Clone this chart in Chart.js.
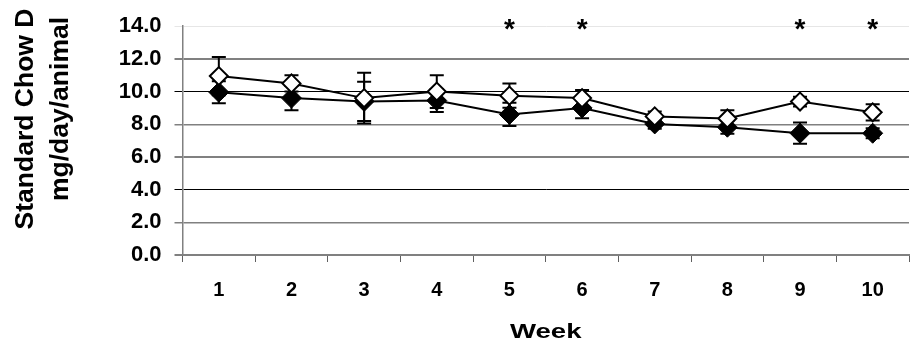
<!DOCTYPE html>
<html>
<head>
<meta charset="utf-8">
<script src="https://cdn.jsdelivr.net/npm/chart.js@4/dist/chart.umd.min.js"></script>
<style>
  html, body { margin: 0; padding: 0; background: #fff; overflow: hidden; width: 912px; height: 352px; }
  #wrap { width: 920px; height: 352px; }
</style>
</head>
<body>
<div id="wrap"><canvas id="c" width="920" height="352"></canvas></div>
<script>
const weeks = ['1', '2', '3', '4', '5', '6', '7', '8', '9', '10'];
const openMeans = [10.95, 10.5, 9.6, 10.0, 9.75, 9.6, 8.48, 8.35, 9.39, 8.73];
const openErr = [1.17, 0.5, 1.55, 1.0, 0.74, 0.5, 0.3, 0.5, 0.3, 0.5];
const filledMeans = [9.96, 9.6, 9.4, 9.45, 8.6, 9.0, 8.02, 7.82, 7.45, 7.45];
const filledErr = [0.67, 0.75, 1.2, 0.7, 0.71, 0.64, 0.3, 0.4, 0.65, 0.3];
const significant = [false, false, false, false, true, true, false, false, true, true];
const yTickValues = [0, 2, 4, 6, 8, 10, 12, 14];
const yTitleLines = ['Standard Chow D', 'mg/day/animal'];
const xTitle = 'Week';

const FONT = "'Liberation Sans', Arial, sans-serif";
const gridColors = {14: '#e6e6e6', 12: '#808080', 10: '#000000', 8: '#808080', 6: '#808080', 4: '#000000', 2: '#808080', 0: '#808080'};
const gridWidths = {14: 1, 12: 2, 10: 1, 8: 1.5, 6: 2, 4: 1, 2: 1.5, 0: 2};

const errorBars = {
  id: 'errorBars',
  beforeDatasetsDraw(chart) {
    const ctx = chart.ctx, xs = chart.scales.x, ys = chart.scales.y;
    const sets = [[openMeans, openErr], [filledMeans, filledErr]];
    ctx.save();
    ctx.strokeStyle = '#000';
    ctx.lineWidth = 2;
    sets.forEach(([m, e]) => {
      m.forEach((v, i) => {
        const x = xs.getPixelForValue(i);
        const yt = ys.getPixelForValue(v + e[i]);
        const yb = ys.getPixelForValue(v - e[i]);
        ctx.beginPath();
        ctx.moveTo(x, yt); ctx.lineTo(x, yb);
        ctx.moveTo(x - 7, yt); ctx.lineTo(x + 7, yt);
        ctx.moveTo(x - 7, yb); ctx.lineTo(x + 7, yb);
        ctx.stroke();
      });
    });
    ctx.restore();
  }
};

const annotations = {
  id: 'annotations',
  afterDraw(chart) {
    const ctx = chart.ctx, xs = chart.scales.x, ys = chart.scales.y, ca = chart.chartArea;
    ctx.save();
    ctx.fillStyle = '#000';
    // significance asterisks
    ctx.font = 'bold 28px ' + FONT;
    ctx.textAlign = 'center';
    ctx.textBaseline = 'alphabetic';
    significant.forEach((s, i) => {
      if (s) ctx.fillText('*', xs.getPixelForValue(i), ys.getPixelForValue(14) + 12);
    });
    // x title
    ctx.font = 'bold 20px ' + FONT;
    ctx.save();
    ctx.translate((ca.left + ca.right) / 2, 338);
    ctx.scale(1.38, 1);
    ctx.fillText(xTitle, 0, 0);
    ctx.restore();
    // y title (two lines)
    ctx.font = 'bold 26px ' + FONT;
    const pos = [[33, 119], [67.5, 109]];
    yTitleLines.forEach((t, k) => {
      ctx.save();
      ctx.translate(pos[k][0], pos[k][1]);
      ctx.rotate(-Math.PI / 2);
      ctx.scale(1.02, 1);
      ctx.fillText(t, 0, 0);
      ctx.restore();
    });
    ctx.restore();
  }
};

new Chart(document.getElementById('c'), {
  type: 'line',
  data: {
    labels: weeks,
    datasets: [
      {
        label: 'open',
        data: openMeans,
        borderColor: '#000',
        borderWidth: 2,
        pointStyle: 'rectRot',
        pointRadius: 9,
        pointBackgroundColor: '#fff',
        pointBorderColor: '#000',
        pointBorderWidth: 2,
        tension: 0
      },
      {
        label: 'filled',
        data: filledMeans,
        borderColor: '#000',
        borderWidth: 2,
        pointStyle: 'rectRot',
        pointRadius: 10,
        pointBackgroundColor: '#000',
        pointBorderColor: '#000',
        pointBorderWidth: 1,
        tension: 0
      }
    ]
  },
  options: {
    responsive: false,
    animation: false,
    events: [],
    layout: { padding: { top: 24, right: 1.5, bottom: 0, left: 0 } },
    plugins: { legend: { display: false }, tooltip: { enabled: false }, title: { display: false } },
    scales: {
      x: {
        offset: true,
        grid: { offset: true, drawOnChartArea: false, tickLength: 7, color: '#606060', lineWidth: 1 },
        border: { color: '#808080', width: 2 },
        ticks: { color: '#000', font: { family: FONT, size: 20, weight: 'bold' }, padding: 16, maxRotation: 0 },
        afterFit(s) { s.height = 97; }
      },
      y: {
        min: 0, max: 14,
        afterBuildTicks(s) { s.ticks = yTickValues.map(v => ({ value: v })); },
        grid: {
          color: c => gridColors[c.tick.value] || '#808080',
          lineWidth: c => gridWidths[c.tick.value] || 1,
          tickLength: 8
        },
        border: { color: '#808080', width: 1.5 },
        ticks: {
          color: '#000',
          font: { family: FONT, size: 22, weight: 'bold' },
          padding: 13,
          callback: v => Number(v).toFixed(1)
        },
        afterFit(s) { s.width = 182.5; }
      }
    }
  },
  plugins: [errorBars, annotations]
});
</script>
</body>
</html>
